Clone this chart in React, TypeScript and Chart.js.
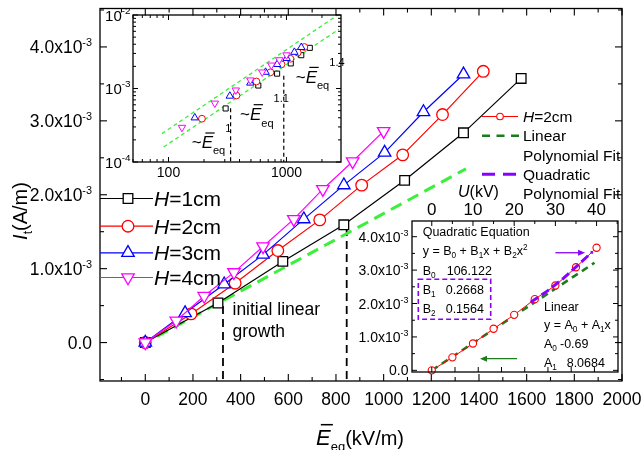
import React, { useEffect, useRef } from 'react';
import { Chart, registerables } from 'chart.js';

Chart.register(...registerables);

const FONT = '"Liberation Sans", Arial, sans-serif';

// ===== Main plot: mean equivalent field Eeq (kV/m) vs current It (A/m)
const eqH1 = [0, 305, 577, 833, 1088, 1335, 1577];
const itH1 = [0, 0.535e-3, 1.098e-3, 1.593e-3, 2.195e-3, 2.838e-3, 3.574e-3];
const eqH2 = [0, 192, 377, 556, 732, 908, 1080, 1247, 1418];
const itH2 = [0, 0.388e-3, 0.803e-3, 1.245e-3, 1.66e-3, 2.13e-3, 2.54e-3, 3.085e-3, 3.67e-3];
const eqH3 = [0, 167, 331, 494, 665, 833, 1004, 1167, 1335];
const itH3 = [0, 0.4e-3, 0.79e-3, 1.19e-3, 1.67e-3, 2.13e-3, 2.57e-3, 3.12e-3, 3.63e-3];
const eqH4 = [0, 130, 247, 372, 494, 623, 745, 870, 1000];
const itH4 = [0, 0.295e-3, 0.63e-3, 0.95e-3, 1.3e-3, 1.67e-3, 2.075e-3, 2.45e-3, 2.86e-3];

const seriesLabels = ['H=1cm', 'H=2cm', 'H=3cm', 'H=4cm'];
const seriesColors = ['#000000', '#ff0000', '#0000ff', '#ff00ff'];

// green dashed "initial linear growth" guide
const guideEq = [-20, 1345];
const guideIt = [-0.04e-3, 2.35e-3];

// vertical dashed markers
const markEq = [326, 845];
const markTop = [0.495e-3, 1.55e-3];

// main axis ticks
const mainXTicks = [0, 200, 400, 600, 800, 1000, 1200, 1400, 1600, 1800, 2000];
const mainXLabels = ['0', '200', '400', '600', '800', '1000', '1200', '1400', '1600', '1800', '2000'];
const mainYTicks = [0, 1e-3, 2e-3, 3e-3, 4e-3];
const mainYLabels = ['0.0', '1.0x10^-3', '2.0x10^-3', '3.0x10^-3', '4.0x10^-3'];

// ===== Inset 1 (log-log)
const logUpperEq = [88, 2640];
const logUpperIt = [2.43e-4, 9.68e-3];
const logLowerEq = [91, 2780];
const logLowerIt = [1.6e-4, 6.4e-3];
const logMarkEq = [336, 949];
const logMarkTop = [5.4e-4, 1.49e-3];
const logXTicks = [100, 1000];
const logXLabels = ['100', '1000'];
const logYTicks = [1e-4, 1e-3, 1e-2];
const logYLabels = ['10^-4', '10^-3', '10^-2'];
const powerExps = ['1', '1.1', '1.4'];

// ===== Inset 2 (H=2cm vs applied voltage)
const uKV = [0, 5, 10, 15, 20, 25, 30, 35, 40];
const itU = itH2;
const linFitU = [0, 39.5];
const linFitIt = [0, 3.22e-3];
const quadFitU = [24, 28, 32, 36, 39];
const quadFitIt = [2.04e-3, 2.37e-3, 2.76e-3, 3.21e-3, 3.55e-3];
const quadArrowU = [30, 37.2];
const quadArrowIt = [3.52e-3, 3.52e-3];
const linArrowU = [20.7, 11.7];
const linArrowIt = [0.35e-3, 0.35e-3];
const uTicks = [0, 10, 20, 30, 40];
const uLabels = ['0', '10', '20', '30', '40'];
const insetYTicks = [0, 1e-3, 2e-3, 3e-3, 4e-3];
const insetYLabels = ['0.0', '1.0x10^-3', '2.0x10^-3', '3.0x10^-3', '4.0x10^-3'];
const quadCoef = ['106.122', '0.2668', '0.1564'];
const linCoef = ['-0.69', '8.0684'];

const W = 643;
const H = 450;

const PURPLE = '#8a00ff';
const DKGREEN = '#1d7d1d';
const LIME = '#3af03a';

type Seg = { t: string; size: number; italic?: boolean; dy?: number; bar?: boolean };

const fontOf = (s: Seg) => `${s.italic ? 'italic ' : ''}${s.size}px ${FONT}`;

function segsWidth(ctx: CanvasRenderingContext2D, segs: Seg[]) {
  let w = 0;
  for (const s of segs) {
    ctx.font = fontOf(s);
    w += ctx.measureText(s.t).width;
  }
  return w;
}

function drawSegs(ctx: CanvasRenderingContext2D, segs: Seg[], x: number, y: number, align = 'left', color = '#000') {
  const w = segsWidth(ctx, segs);
  let cx = align === 'left' ? x : align === 'right' ? x - w : x - w / 2;
  ctx.save();
  ctx.fillStyle = color;
  ctx.strokeStyle = color;
  ctx.textAlign = 'left';
  ctx.textBaseline = 'alphabetic';
  for (const s of segs) {
    ctx.font = fontOf(s);
    const sw = ctx.measureText(s.t).width;
    const by = y + (s.dy || 0);
    ctx.fillText(s.t, cx, by);
    if (s.bar) {
      ctx.lineWidth = Math.max(1, s.size * 0.07);
      const yy = by - s.size * 0.9;
      ctx.beginPath();
      ctx.moveTo(cx + s.size * 0.22, yy);
      ctx.lineTo(cx + sw + s.size * 0.1, yy);
      ctx.stroke();
    }
    cx += sw;
  }
  ctx.restore();
}

function sci(label: string, size: number, supScale = 0.62, rise = 0.4): Seg[] {
  if (label.includes('^')) {
    const [b, e] = label.split('^');
    return [{ t: b, size }, { t: e, size: size * supScale, dy: -size * rise }];
  }
  return [{ t: label, size }];
}

function seg(ctx: CanvasRenderingContext2D, x1: number, y1: number, x2: number, y2: number) {
  ctx.beginPath();
  ctx.moveTo(x1, y1);
  ctx.lineTo(x2, y2);
  ctx.stroke();
}

function marker(ctx: CanvasRenderingContext2D, style: string, rot: number, cx: number, cy: number, r: number, color: string, lw: number) {
  ctx.save();
  ctx.beginPath();
  if (style === 'rect') {
    const s = r * Math.SQRT1_2;
    ctx.rect(cx - s, cy - s, 2 * s, 2 * s);
  } else if (style === 'circle') {
    ctx.arc(cx, cy, r, 0, Math.PI * 2);
  } else {
    let a = (rot * Math.PI) / 180;
    ctx.moveTo(cx + Math.sin(a) * r, cy - Math.cos(a) * r);
    a += (2 * Math.PI) / 3;
    ctx.lineTo(cx + Math.sin(a) * r, cy - Math.cos(a) * r);
    a += (2 * Math.PI) / 3;
    ctx.lineTo(cx + Math.sin(a) * r, cy - Math.cos(a) * r);
    ctx.closePath();
  }
  ctx.fillStyle = '#fff';
  ctx.fill();
  ctx.strokeStyle = color;
  ctx.lineWidth = lw;
  ctx.stroke();
  ctx.restore();
}

function arrow(ctx: CanvasRenderingContext2D, x1: number, y1: number, x2: number, y2: number, color: string) {
  ctx.save();
  ctx.strokeStyle = color;
  ctx.fillStyle = color;
  ctx.lineWidth = 1.3;
  const dir = Math.sign(x2 - x1);
  seg(ctx, x1, y1, x2 - dir * 5, y2);
  ctx.beginPath();
  ctx.moveTo(x2, y2);
  ctx.lineTo(x2 - dir * 7, y2 - 3);
  ctx.lineTo(x2 - dir * 7, y2 + 3);
  ctx.closePath();
  ctx.fill();
  ctx.restore();
}

const eqSegs = (size: number, exp: string, dySub: number, dySup: number): Seg[] => [
  { t: '~', size },
  { t: 'E', size, italic: true, bar: true },
  { t: 'eq', size: size * 0.65, dy: dySub },
  { t: exp, size: size * 0.65, dy: dySup },
];

const pts = (xs: number[], ys: number[]) => xs.map((x, i) => ({ x, y: ys[i] }));

const pointStyles = ['rect', 'circle', 'triangle', 'triangle'];
const pointRotations = [0, 0, 0, 180];
const mainRadius = [6.8, 5.8, 7.2, 7.2];
const insetRadius = [3.6, 3.4, 4.3, 4.3];
const seriesEq = [eqH1, eqH2, eqH3, eqH4];
const seriesIt = [itH1, itH2, itH3, itH4];

// ---------------- plugins ----------------
const mainDecor = {
  id: 'mainDecor',
  afterDraw(chart: any) {
    const { ctx, chartArea: a } = chart;
    const xs = chart.scales.x;
    const ys = chart.scales.y;
    ctx.save();
    ctx.strokeStyle = '#000';
    ctx.lineWidth = 1.3;
    ctx.strokeRect(a.left, a.top, a.right - a.left, a.bottom - a.top);
    ctx.lineWidth = 1.1;
    for (let k = -1; k <= 20; k++) {
      const px = xs.getPixelForValue(k * 100);
      const len = k % 2 === 0 ? 7 : 4;
      seg(ctx, px, a.bottom, px, a.bottom - len);
      seg(ctx, px, a.top, px, a.top + len);
    }
    for (let k = -1; k <= 9; k++) {
      const py = ys.getPixelForValue(k * 0.5e-3);
      const len = k % 2 === 0 ? 7 : 4;
      seg(ctx, a.left, py, a.left + len, py);
      seg(ctx, a.right, py, a.right - len, py);
    }
    ctx.restore();

    mainXTicks.forEach((v, i) => {
      drawSegs(ctx, [{ t: mainXLabels[i], size: 17.5 }], xs.getPixelForValue(v), a.bottom + 23.5, 'center');
    });
    mainYTicks.forEach((v, i) => {
      drawSegs(ctx, sci(mainYLabels[i], 17.5), a.left - 8, ys.getPixelForValue(v) + 6, 'right');
    });

    // x title
    drawSegs(ctx, [
      { t: 'E', size: 22, italic: true, bar: true },
      { t: 'eq', size: 13, dy: 6 },
      { t: '(kV/m)', size: 20 },
    ], 316, 444.5, 'left');

    // y title
    ctx.save();
    ctx.translate(27, 211);
    ctx.rotate(-Math.PI / 2);
    drawSegs(ctx, [
      { t: 'I', size: 20, italic: true },
      { t: 't', size: 12, dy: 5 },
      { t: '(A/m)', size: 20 },
    ], 0, 0, 'center');
    ctx.restore();

    // left legend
    const rows = [190, 217.7, 244.3, 269];
    rows.forEach((ry, i) => {
      const y = a.top + ry;
      ctx.save();
      ctx.strokeStyle = seriesColors[i];
      ctx.lineWidth = 1.2;
      seg(ctx, a.left, y, a.left + 53, y);
      ctx.restore();
      marker(ctx, pointStyles[i], pointRotations[i], a.left + 28, y, mainRadius[i], seriesColors[i], 1.3);
      const lab = seriesLabels[i];
      drawSegs(ctx, [{ t: lab[0], size: 21, italic: true }, { t: lab.slice(1), size: 21 }], a.left + 54, y + 7.5, 'left');
    });

    // annotation
    drawSegs(ctx, [{ t: 'initial linear', size: 17.5 }], 232.5, 315, 'left');
    drawSegs(ctx, [{ t: 'growth', size: 17.5 }], 232.5, 337, 'left');

    // right legend
    const lx1 = a.left + 382;
    const lx2 = a.left + 418;
    const tx = a.left + 423;
    const r1 = a.top + 108;
    ctx.save();
    ctx.strokeStyle = '#ff0000';
    ctx.lineWidth = 1.2;
    seg(ctx, lx1, r1, lx2, r1);
    ctx.restore();
    marker(ctx, 'circle', 0, (lx1 + lx2) / 2, r1, 3.3, '#ff0000', 1.1);
    drawSegs(ctx, [{ t: 'H', size: 15.5, italic: true }, { t: '=2cm', size: 15.5 }], tx, r1 + 5.5, 'left');
    const r2 = a.top + 127.3;
    ctx.save();
    ctx.strokeStyle = DKGREEN;
    ctx.lineWidth = 2.6;
    ctx.setLineDash([8, 6.5]);
    seg(ctx, lx1, r2, lx2 + 1, r2);
    ctx.restore();
    drawSegs(ctx, [{ t: 'Linear', size: 15.5 }], tx, r2 + 5.5, 'left');
    drawSegs(ctx, [{ t: 'Polynomial Fit', size: 15.5 }], tx, a.top + 146.7 + 5.5, 'left');
    const r4 = a.top + 165.7;
    ctx.save();
    ctx.strokeStyle = PURPLE;
    ctx.lineWidth = 3;
    ctx.setLineDash([13, 8]);
    seg(ctx, lx1, r4, lx2 + 1, r4);
    ctx.restore();
    drawSegs(ctx, [{ t: 'Quadratic', size: 15.5 }], tx, r4 + 5.5, 'left');
    drawSegs(ctx, [{ t: 'Polynomial Fit', size: 15.5 }], tx, a.top + 185 + 5.5, 'left');
  },
};

const logDecor = {
  id: 'logDecor',
  afterDraw(chart: any) {
    const { ctx, chartArea: a } = chart;
    const xs = chart.scales.x;
    const ys = chart.scales.y;
    ctx.save();
    ctx.strokeStyle = '#000';
    ctx.lineWidth = 1.3;
    ctx.strokeRect(a.left, a.top, a.right - a.left, a.bottom - a.top);
    ctx.lineWidth = 1;
    for (const dec of [10, 100, 1000]) {
      for (let m = 1; m <= 9; m++) {
        const v = dec * m;
        if (v < 50 || v > 2900) continue;
        const px = xs.getPixelForValue(v);
        const len = m === 1 ? 5 : 3;
        seg(ctx, px, a.bottom, px, a.bottom - len);
        seg(ctx, px, a.top, px, a.top + len);
      }
    }
    for (const dec of [1e-4, 1e-3, 1e-2]) {
      for (let m = 1; m <= 9; m++) {
        const v = dec * m;
        if (v > 1.0001e-2) continue;
        const py = ys.getPixelForValue(v);
        const len = m === 1 ? 5 : 3;
        seg(ctx, a.left, py, a.left + len, py);
        seg(ctx, a.right, py, a.right - len, py);
      }
    }
    ctx.restore();
    logXTicks.forEach((v, i) => {
      drawSegs(ctx, [{ t: logXLabels[i], size: 14 }], xs.getPixelForValue(v), a.bottom + 15, 'center');
    });
    logYTicks.forEach((v, i) => {
      drawSegs(ctx, sci(logYLabels[i], 15, 0.66, 0.45), a.left - 2.5, ys.getPixelForValue(v) + 5.5, 'right');
    });
    drawSegs(ctx, eqSegs(17, powerExps[0], 6, -16), a.left + 58.7, a.top + 133.3, 'left');
    drawSegs(ctx, eqSegs(17, powerExps[1], 7, -18), a.left + 107, a.top + 105, 'left');
    drawSegs(ctx, eqSegs(17, powerExps[2], 6, -17), a.left + 162.7, a.top + 67.7, 'left');
  },
};

const uDecor = {
  id: 'uDecor',
  afterDraw(chart: any) {
    const { ctx, chartArea: a } = chart;
    const xs = chart.scales.x;
    const ys = chart.scales.y;
    ctx.save();
    ctx.strokeStyle = '#000';
    ctx.lineWidth = 1.3;
    ctx.strokeRect(a.left, a.top, a.right - a.left, a.bottom - a.top);
    ctx.lineWidth = 1;
    for (let k = 0; k <= 9; k++) {
      const px = xs.getPixelForValue(k * 5);
      seg(ctx, px, a.top, px, a.top + (k % 2 === 0 ? 5 : 3));
    }
    for (let k = 0; k <= 7; k++) {
      const px = xs.getPixelForValue(k * 5.64);
      seg(ctx, px, a.bottom, px, a.bottom - 5);
    }
    for (let k = 0; k <= 8; k++) {
      const py = ys.getPixelForValue(k * 0.5e-3);
      const len = k % 2 === 0 ? 5 : 3;
      seg(ctx, a.left, py, a.left + len, py);
      seg(ctx, a.right, py, a.right - len, py);
    }
    ctx.restore();

    uTicks.forEach((v, i) => {
      drawSegs(ctx, [{ t: uLabels[i], size: 17 }], xs.getPixelForValue(v), a.top - 6, 'center');
    });
    drawSegs(ctx, [{ t: 'U', size: 16, italic: true }, { t: '(kV)', size: 16 }], 458, 197, 'left');
    insetYTicks.forEach((v, i) => {
      drawSegs(ctx, sci(insetYLabels[i], 14, 0.64, 0.42), a.left - 3.5, ys.getPixelForValue(v) + 5, 'right');
    });

    const fs = 12.5;
    const sub = fs * 0.66;
    const L = a.left + 10.7;
    drawSegs(ctx, [{ t: 'Quadratic Equation', size: fs }], L, a.top + 15, 'left');
    drawSegs(ctx, [
      { t: 'y = B', size: fs }, { t: '0', size: sub, dy: 3 },
      { t: ' + B', size: fs }, { t: '1', size: sub, dy: 3 },
      { t: 'x + B', size: fs }, { t: '2', size: sub, dy: 3 },
      { t: 'x', size: fs }, { t: '2', size: sub, dy: -5 },
    ], L, a.top + 34, 'left');
    const bRows = [53.5, 72.5, 92];
    const bX = [34.7, 33.7, 33.7];
    bRows.forEach((ry, i) => {
      drawSegs(ctx, [{ t: 'B', size: fs }, { t: String(i), size: sub, dy: 3 }], L, a.top + ry, 'left');
      drawSegs(ctx, [{ t: quadCoef[i], size: fs }], a.left + bX[i], a.top + ry, 'left');
    });
    ctx.save();
    ctx.strokeStyle = PURPLE;
    ctx.lineWidth = 1.6;
    ctx.setLineDash([5, 3]);
    ctx.strokeRect(a.left + 6.3, a.top + 58.3, 72.4, 40);
    ctx.restore();

    const R = a.left + 132;
    drawSegs(ctx, [{ t: 'Linear', size: fs }], R, a.top + 90, 'left');
    drawSegs(ctx, [
      { t: 'y = A', size: fs }, { t: '0', size: sub, dy: 3 },
      { t: ' + A', size: fs }, { t: '1', size: sub, dy: 3 },
      { t: 'x', size: fs },
    ], R, a.top + 107.5, 'left');
    const aRows = [126.5, 145.5];
    const aX = [148, 154.7];
    aRows.forEach((ry, i) => {
      drawSegs(ctx, [{ t: 'A', size: fs }, { t: String(i), size: sub, dy: 3 }], R, a.top + ry, 'left');
      drawSegs(ctx, [{ t: linCoef[i], size: fs }], a.left + aX[i], a.top + ry, 'left');
    });

    arrow(ctx, xs.getPixelForValue(quadArrowU[0]), ys.getPixelForValue(quadArrowIt[0]),
      xs.getPixelForValue(quadArrowU[1]), ys.getPixelForValue(quadArrowIt[1]), PURPLE);
    arrow(ctx, xs.getPixelForValue(linArrowU[0]), ys.getPixelForValue(linArrowIt[0]),
      xs.getPixelForValue(linArrowU[1]), ys.getPixelForValue(linArrowIt[1]), DKGREEN);
  },
};

const baseOpts = (padding: any) => ({
  animation: false as const,
  responsive: false,
  maintainAspectRatio: false,
  devicePixelRatio: 1,
  events: [] as any[],
  layout: { padding },
  plugins: { legend: { display: false }, tooltip: { enabled: false }, title: { display: false } },
});

function mainConfig(): any {
  const series = seriesEq.map((eq, i) => ({
    label: seriesLabels[i],
    data: pts(eq, seriesIt[i]),
    showLine: true,
    borderColor: seriesColors[i],
    borderWidth: 1.2,
    pointStyle: pointStyles[i],
    pointRotation: pointRotations[i],
    pointRadius: mainRadius[i],
    pointBackgroundColor: '#ffffff',
    pointBorderColor: seriesColors[i],
    pointBorderWidth: 1.3,
    clip: false,
  })).reverse();
  return {
    type: 'scatter',
    data: {
      datasets: [
        ...series,
        {
          label: 'guide', data: pts(guideEq, guideIt), showLine: true, borderColor: LIME,
          borderWidth: 3, borderDash: [12, 7], pointRadius: 0,
        },
        ...markEq.map((e, i) => ({
          label: 'mark' + i, data: [{ x: e, y: markTop[i] }, { x: e, y: -0.52e-3 }], showLine: true,
          borderColor: '#000', borderWidth: 1.8, borderDash: [8, 5], pointRadius: 0,
        })),
      ],
    },
    options: {
      ...baseOpts({ left: 100, right: 21, top: 5, bottom: 69 }),
      scales: {
        x: { type: 'linear', min: -190, max: 2000, display: false },
        y: { type: 'linear', min: -0.52e-3, max: 4.52e-3, display: false },
      },
    },
    plugins: [mainDecor],
  };
}

function logConfig(): any {
  const series = seriesEq.map((eq, i) => ({
    label: seriesLabels[i],
    data: pts(eq.slice(1), seriesIt[i].slice(1)),
    showLine: false,
    pointStyle: pointStyles[i],
    pointRotation: pointRotations[i],
    pointRadius: insetRadius[i],
    pointBackgroundColor: '#ffffff',
    pointBorderColor: seriesColors[i],
    pointBorderWidth: 1,
  })).reverse();
  return {
    type: 'scatter',
    data: {
      datasets: [
        ...series,
        { label: 'up', data: pts(logUpperEq, logUpperIt), showLine: true, borderColor: LIME, borderWidth: 1.3, borderDash: [4, 3], pointRadius: 0 },
        { label: 'lo', data: pts(logLowerEq, logLowerIt), showLine: true, borderColor: LIME, borderWidth: 1.3, borderDash: [4, 3], pointRadius: 0 },
        ...logMarkEq.map((e, i) => ({
          label: 'lm' + i, data: [{ x: e, y: logMarkTop[i] }, { x: e, y: 1e-4 }], showLine: true,
          borderColor: '#000', borderWidth: 1.2, borderDash: [4, 3], pointRadius: 0,
        })),
      ],
    },
    options: {
      ...baseOpts({ left: 133, right: 302, top: 15, bottom: 288 }),
      scales: {
        x: { type: 'logarithmic', min: 50, max: 2900, display: false },
        y: { type: 'logarithmic', min: 1e-4, max: 1e-2, display: false },
      },
    },
    plugins: [logDecor],
  };
}

function uConfig(): any {
  return {
    type: 'scatter',
    data: {
      datasets: [
        { label: 'quad', data: pts(quadFitU, quadFitIt), showLine: true, borderColor: PURPLE, borderWidth: 3, borderDash: [9, 4], pointRadius: 0 },
        {
          label: 'H=2cm', data: pts(uKV, itU), showLine: true, borderColor: '#ff0000', borderWidth: 1,
          pointStyle: 'circle', pointRadius: 3.6, pointBackgroundColor: '#ffffff', pointBorderColor: '#ff0000', pointBorderWidth: 1.1, clip: false,
        },
        { label: 'lin', data: pts(linFitU, linFitIt), showLine: true, borderColor: DKGREEN, borderWidth: 2.6, borderDash: [7, 5], pointRadius: 0 },
      ],
    },
    options: {
      ...baseOpts({ left: 412, right: 25, top: 221, bottom: 78 }),
      scales: {
        x: { type: 'linear', min: -4.8, max: 45.2, display: false },
        y: { type: 'linear', min: -0.05e-3, max: 4.47e-3, display: false },
      },
    },
    plugins: [uDecor],
  };
}

export default function App() {
  const mainRef = useRef<HTMLCanvasElement>(null);
  const logRef = useRef<HTMLCanvasElement>(null);
  const uRef = useRef<HTMLCanvasElement>(null);

  useEffect(() => {
    const charts: Chart[] = [];
    if (mainRef.current) charts.push(new Chart(mainRef.current, mainConfig()));
    if (logRef.current) charts.push(new Chart(logRef.current, logConfig()));
    if (uRef.current) charts.push(new Chart(uRef.current, uConfig()));
    return () => charts.forEach((c) => c.destroy());
  }, []);

  const cs: React.CSSProperties = { position: 'absolute', left: 0, top: 0, width: W, height: H };
  return (
    <div style={{ position: 'fixed', left: 0, top: 0, width: W, height: H, background: '#fff', overflow: 'hidden' }}>
      <canvas ref={mainRef} width={W} height={H} style={cs} />
      <canvas ref={logRef} width={W} height={H} style={cs} />
      <canvas ref={uRef} width={W} height={H} style={cs} />
    </div>
  );
}
